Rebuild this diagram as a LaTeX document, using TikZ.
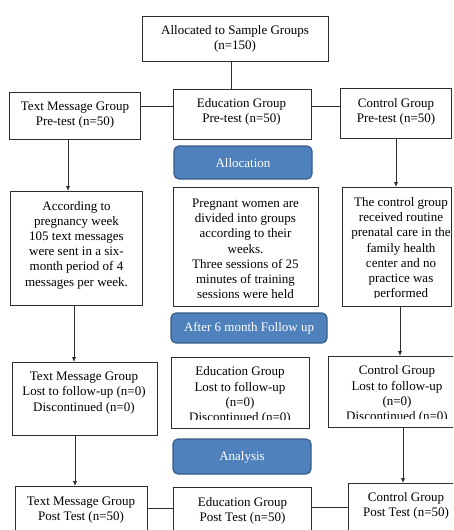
\documentclass[tikz,border=0pt]{standalone}
\usepackage{fontspec}
\setmainfont{Liberation Serif}
\usetikzlibrary{arrows.meta}
\definecolor{btnfill}{RGB}{79,129,189}
\definecolor{btnedge}{RGB}{56,93,138}
\definecolor{ln}{RGB}{45,45,45}
\begin{document}
\begin{tikzpicture}[x=1pt,y=-1pt,
  box/.style={draw=ln,line width=0.9pt,fill=white},
  txt/.style={font=\fontsize{13}{15.2}\selectfont,align=center,inner sep=0pt,text=black},
  btn/.style={draw=btnedge,line width=1.2pt,fill=btnfill,rounded corners=5pt},
  btntxt/.style={font=\fontsize{13}{15.2}\selectfont,text=white,inner sep=0pt},
  con/.style={draw=ln,line width=0.9pt},
  arr/.style={con,-{Latex[length=5pt,width=4.5pt]}}]
\clip (0,0) rectangle (453,530);
\fill[white] (0,0) rectangle (453,530);

% boxes
\path[box] (142,16) rectangle (328,61);
\path[box] (9,92) rectangle (140,139);
\path[box] (173,89) rectangle (311,139);
\path[box] (340,88) rectangle (451,138);
\path[box] (10,191) rectangle (142,305);
\path[box] (173,187) rectangle (318,306);
\path[box] (342,187) rectangle (451,306);
\path[box] (12,362) rectangle (157,435);
\path[box] (171,357) rectangle (309,428);
\path[box] (328,356) rectangle (458,427);
\path[box] (15,486) rectangle (147,545);
\path[box] (173,487) rectangle (311,545);
\path[box] (348,483) rectangle (458,545);

% anchor coordinates of boxes
\coordinate (topS) at (231,61);
\coordinate (edupreN) at (231,89);
\coordinate (tmpreE) at (140,106);
\coordinate (edupreW) at (173,106);
\coordinate (edupreE) at (311,106);
\coordinate (ctlpreW) at (340,106);
\coordinate (tmpreS) at (68,139);
\coordinate (tmtwoN) at (68,191);
\coordinate (tmtwoS) at (74,305);
\coordinate (tmthreeN) at (74,362);
\coordinate (tmthreeS) at (75,435);
\coordinate (tmfourN) at (75,486);
\coordinate (ctlpreS) at (396,138);
\coordinate (ctltwoN) at (396,187);
\coordinate (ctltwoS) at (400,306);
\coordinate (ctlthreeN) at (400,356);
\coordinate (ctlthreeS) at (403,427);
\coordinate (ctlfourN) at (403,483);
\coordinate (tmfourE) at (147,508);
\coordinate (edufourW) at (173,508);
\coordinate (edufourE) at (311,507);
\coordinate (ctlfourW) at (348,507);

% texts
\node[txt] (ttop) at (235,39) {Allocated to Sample Groups\\(n=150)};
\node[txt] (ttmpre) at (75,115) {Text Message Group\\Pre-test (n=50)};
\node[txt] (tedupre) at (241.5,112) {Education Group\\Pre-test (n=50)};
\node[txt] (tctlpre) at (396,111.5) {Control Group\\Pre-test (n=50)};
\node[txt] (ttmtwo) at (76.5,245) {According to\\pregnancy week\\105 text messages\\were sent in a six-\\month period of 4\\messages per week.};
\begin{scope}
\clip (173,187) rectangle (318,297.5);
\node[txt] (tedutwo) at (245.5,249) {Pregnant women are\\divided into groups\\according to their\\weeks.\\Three sessions of 25\\minutes of training\\sessions were held};
\end{scope}
\begin{scope}
\clip (342,187) rectangle (451,297.5);
\node[txt] (tctltwo) at (401,249) {The control group\\received routine\\prenatal care in the\\family health\\center and no\\practice was\\performed};
\end{scope}
\node[txt] (ttmthree) at (84,393) {Text Message Group\\Lost to follow-up (n=0)\\Discontinued (n=0)};
\begin{scope}
\clip (171,357) rectangle (309,419);
\node[txt] (teduthree) at (240,395.5) {Education Group\\Lost to follow-up\\(n=0)\\Discontinued (n=0)};
\end{scope}
\begin{scope}
\clip (328,356) rectangle (458,418);
\node[txt] (tctlthree) at (397,394.5) {Control Group\\Lost to follow-up\\(n=0)\\Discontinued (n=0)};
\end{scope}
\node[txt] (ttmfour) at (81,510) {Text Message Group\\Post Test (n=50)};
\node[txt] (tedufour) at (242.5,510.5) {Education Group\\Post Test (n=50)};
\node[txt] (tctlfour) at (406,506) {Control Group\\Post Test (n=50)};

% buttons
\path[btn] (174,146) rectangle (312,179);
\node[btntxt] (balloc) at (243,163) {Allocation};
\path[btn] (171,313) rectangle (327,343);
\node[btntxt] (bafter) at (249,328.5) {After 6 month Follow up};
\path[btn] (173,439) rectangle (311,474);
\node[btntxt] (banal) at (242,457) {Analysis};

% connectors
\draw[con] (topS) -- (edupreN);
\draw[con] (tmpreE) -- (edupreW);
\draw[con] (edupreE) -- (ctlpreW);
\draw[arr] (tmpreS) -- (tmtwoN);
\draw[arr] (tmtwoS) -- (tmthreeN);
\draw[arr] (tmthreeS) -- (tmfourN);
\draw[arr] (ctlpreS) -- (ctltwoN);
\draw[arr] (ctltwoS) -- (ctlthreeN);
\draw[arr] (ctlthreeS) -- (ctlfourN);
\draw[con] (tmfourE) -- (edufourW);
\draw[con] (edufourE) -- (ctlfourW);
\end{tikzpicture}
\end{document}
